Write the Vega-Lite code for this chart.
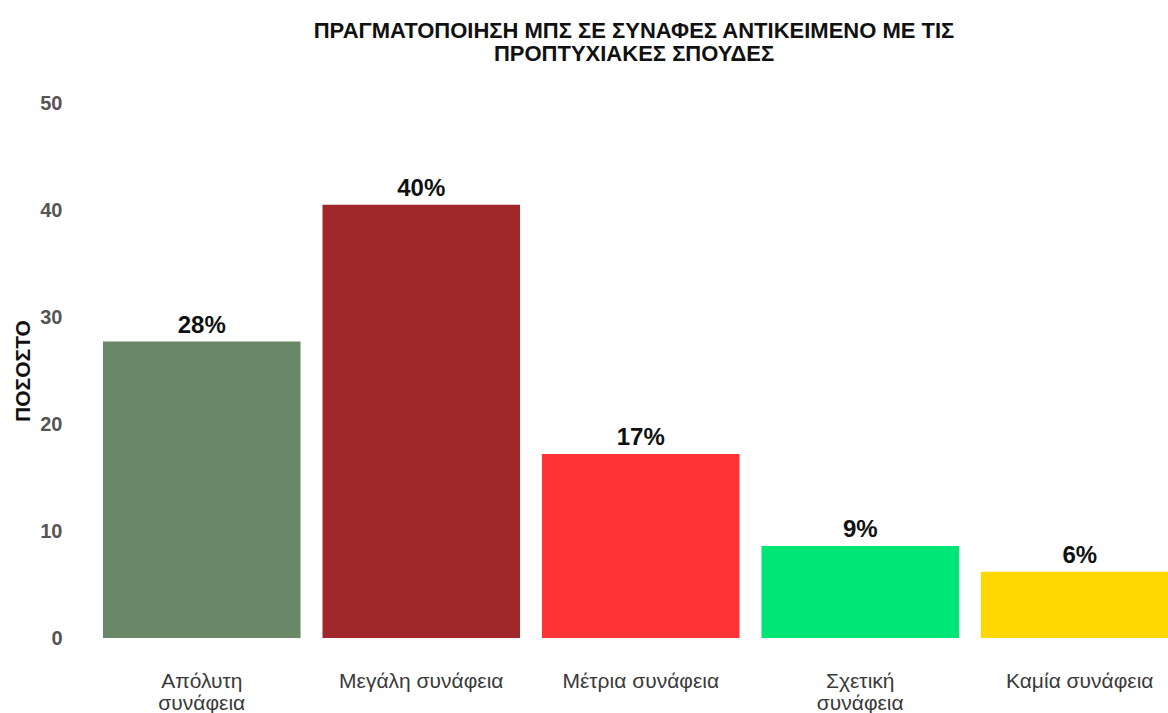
{
  "$schema": "https://vega.github.io/schema/vega-lite/v6.json",
  "width": 1068,
  "height": 535,
  "autosize": {"type": "none"},
  "padding": {"left": 100, "top": 103, "right": 0, "bottom": 75},
  "background": "white",
  "config": {"view": {"stroke": null}, "font": "Liberation Sans"},
  "title": {
    "text": ["ΠΡΑΓΜΑΤΟΠΟΙΗΣΗ ΜΠΣ ΣΕ ΣΥΝΑΦΕΣ ΑΝΤΙΚΕΙΜΕΝΟ ΜΕ ΤΙΣ", "ΠΡΟΠΤΥΧΙΑΚΕΣ ΣΠΟΥΔΕΣ"],
    "anchor": "middle",
    "font": "Liberation Sans",
    "fontSize": 22,
    "fontWeight": "bold",
    "color": "#111111",
    "lineHeight": 23,
    "offset": 27
  },
  "data": {
    "values": [
      {"category": "Απόλυτη συνάφεια", "value": 27.7, "label": "28%"},
      {"category": "Μεγάλη συνάφεια", "value": 40.5, "label": "40%"},
      {"category": "Μέτρια συνάφεια", "value": 17.2, "label": "17%"},
      {"category": "Σχετική συνάφεια", "value": 8.6, "label": "9%"},
      {"category": "Καμία συνάφεια", "value": 6.2, "label": "6%"}
    ]
  },
  "encoding": {
    "x": {
      "field": "category",
      "type": "nominal",
      "sort": null,
      "scale": {"paddingInner": 0.1, "paddingOuter": 0, "range": [3, 1078.5]},
      "axis": {
        "title": null,
        "labelAngle": 0,
        "domain": false,
        "ticks": false,
        "labelPadding": 32,
        "labelFontSize": 21,
        "labelColor": "#3a3a3a",
        "labelLineHeight": 22,
        "labelBaseline": "top",
        "labelExpr": "datum.label == 'Απόλυτη συνάφεια' ? ['Απόλυτη', 'συνάφεια'] : (datum.label == 'Σχετική συνάφεια' ? ['Σχετική', 'συνάφεια'] : datum.label)"
      }
    },
    "y": {
      "field": "value",
      "type": "quantitative",
      "scale": {"domain": [0, 50], "nice": false},
      "axis": {
        "title": "ΠΟΣΟΣΤΟ",
        "titleFontSize": 21,
        "titleFontWeight": "bold",
        "titleColor": "#111111",
        "titlePadding": 6,
        "values": [0, 10, 20, 30, 40, 50],
        "grid": false,
        "domain": false,
        "ticks": false,
        "labelPadding": 38,
        "labelFontSize": 20,
        "labelFontWeight": "bold",
        "labelColor": "#555555"
      }
    }
  },
  "layer": [
    {
      "mark": {"type": "bar", "clip": true},
      "encoding": {
        "color": {
          "field": "category",
          "type": "nominal",
          "sort": null,
          "scale": {
            "domain": ["Απόλυτη συνάφεια", "Μεγάλη συνάφεια", "Μέτρια συνάφεια", "Σχετική συνάφεια", "Καμία συνάφεια"],
            "range": ["#6A8868", "#A0282A", "#FF3333", "#00E676", "#FFD700"]
          },
          "legend": null
        }
      }
    },
    {
      "mark": {"type": "text", "baseline": "alphabetic", "dy": -9, "fontSize": 24, "fontWeight": "bold", "color": "#111111"},
      "encoding": {"text": {"field": "label"}}
    }
  ]
}
